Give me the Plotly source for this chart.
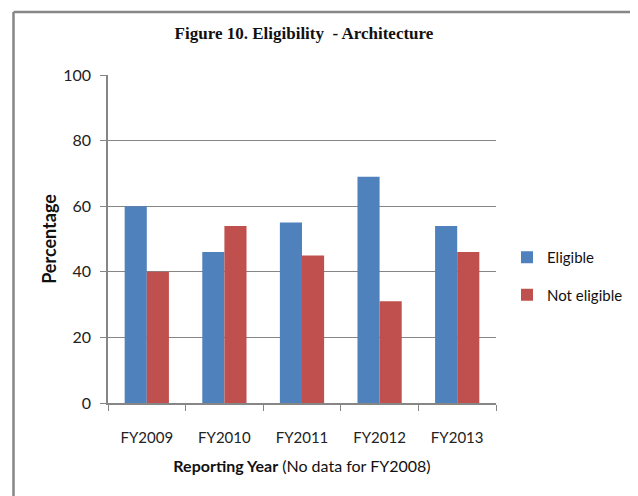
import plotly.graph_objects as go

years = ["FY2009", "FY2010", "FY2011", "FY2012", "FY2013"]
eligible = [60, 46, 55, 69, 54]
not_eligible = [40, 54, 45, 31, 46]

BLUE = "#4F81BD"
RED = "#C0504D"
GRAY = "#868686"
FONT = "Lato"

fig = go.Figure()
fig.add_trace(go.Bar(x=years, y=eligible, name="Eligible", marker_color=BLUE,
                     marker_line_width=0, legendgroup="a"))
fig.add_trace(go.Bar(x=years, y=not_eligible, name="Not eligible", marker_color=RED,
                     marker_line_width=0, legendgroup="b"))

# The page places the figure 8px in from the top-left corner; work in screen pixels.
OFF = 8
W, H = 638 - OFF, 496 - OFF
L, R, T, B = 108 - OFF, 496 - OFF, 75 - OFF, 403 - OFF
pw, ph = R - L, B - T

def px(x):
    return (x - OFF - L) / pw

def py(y):
    return (B - (y - OFF)) / ph

fig.update_layout(
    width=W, height=H,
    margin=dict(l=L, r=W - R, t=T, b=H - B, autoexpand=False),
    paper_bgcolor="white", plot_bgcolor="white",
    barmode="group", bargap=0.43, bargroupgap=0,
    font=dict(family=FONT, color="#222222"),
    showlegend=True,
    legend=dict(x=px(507), y=py(241), xanchor="left", yanchor="top",
                font=dict(family=FONT, size=15, color="#111111"),
                tracegroupgap=15, itemwidth=30, bgcolor="rgba(0,0,0,0)"),
    title=dict(text="<b>Figure 10. Eligibility  - Architecture</b>",
               x=(304 - OFF) / W, xanchor="center",
               y=1 - (33 - OFF) / H, yanchor="middle",
               font=dict(family="Liberation Serif", size=17, color="#111111")),
    xaxis=dict(showline=True, linecolor=GRAY, linewidth=1.5, automargin=False,
               ticks="outside", tickson="boundaries", ticklen=6, tickcolor=GRAY,
               ticklabelstandoff=20,
               tickfont=dict(family=FONT, size=15, color="#222222"),
               title=dict(text="<b>Reporting Year</b> (No data for FY2008)",
                          font=dict(family=FONT, size=16, color="#111111"),
                          standoff=16)),
    yaxis=dict(range=[0, 100], dtick=20, showline=True, linecolor=GRAY, linewidth=1.5,
               automargin=False,
               ticks="outside", ticklen=6, tickcolor=GRAY, ticklabelstandoff=6,
               showgrid=True, gridcolor=GRAY, gridwidth=1,
               zeroline=False,
               tickfont=dict(family=FONT, size=16, color="#222222"),
               title=dict(text="<b>Percentage</b>",
                          font=dict(family=FONT, size=18, color="#111111"),
                          standoff=2)),
)

# Outer chart frame (bottom edge lies outside the visible area)
x0, x1 = px(13.5), px(634)
y0, y1 = py(12), py(520)
for (a, b, c, d) in [(x0, y1, x0, y0), (x0, y0, x1, y0), (x1, y0, x1, y1)]:
    fig.add_shape(type="line", xref="paper", yref="paper", x0=a, y0=b, x1=c, y1=d,
                  line=dict(color=GRAY, width=2.5))

fig.write_html("out.html")
